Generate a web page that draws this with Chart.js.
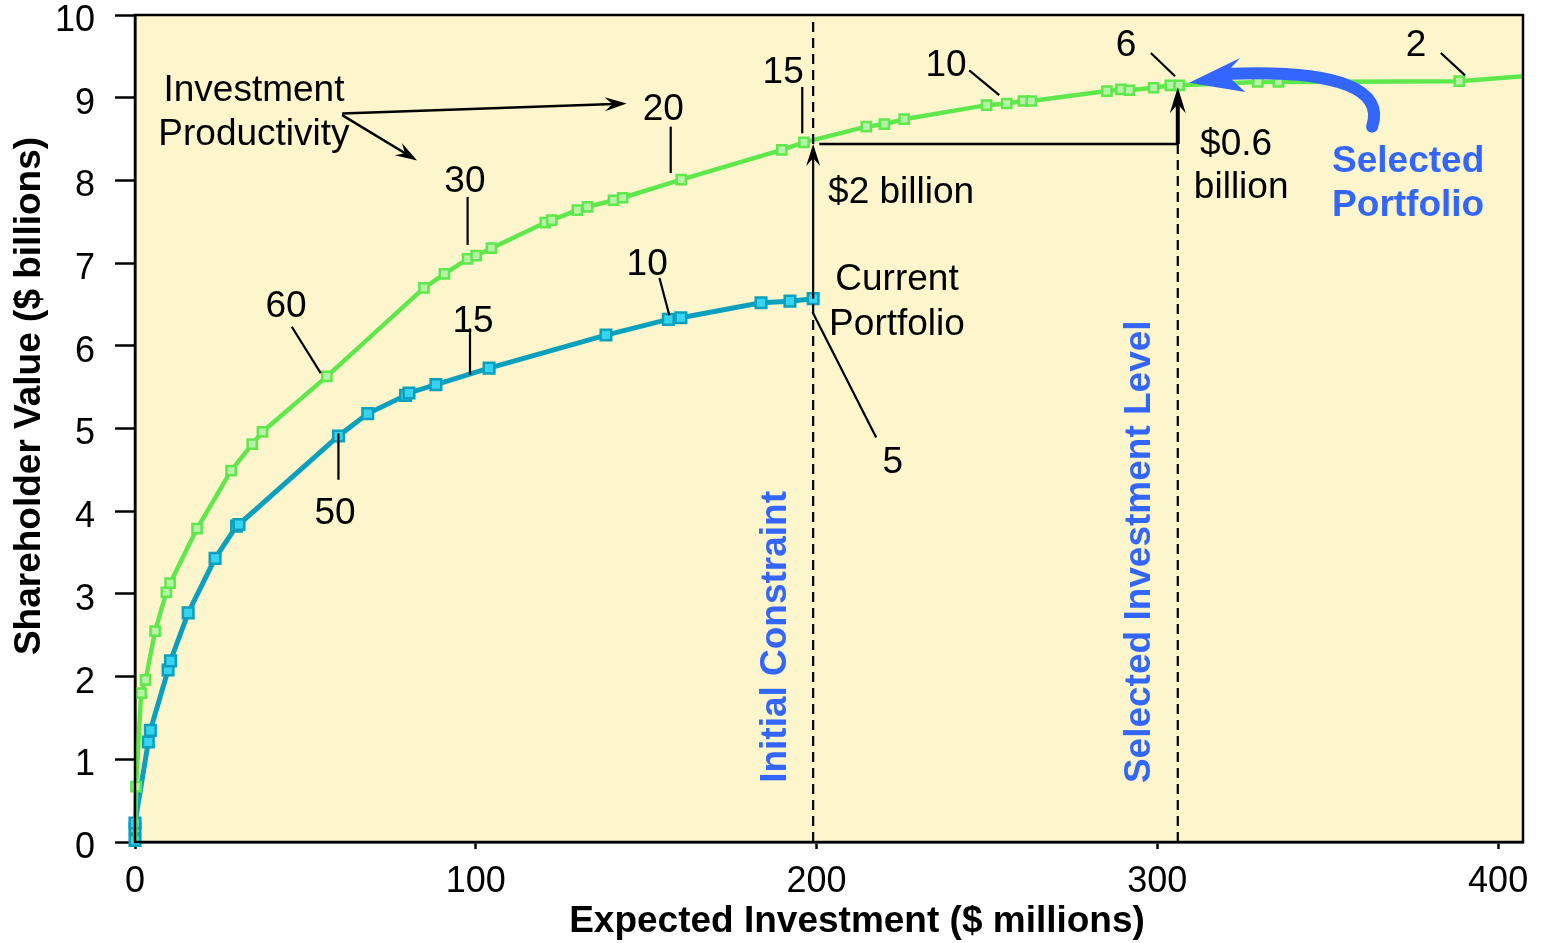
<!DOCTYPE html>
<html>
<head>
<meta charset="utf-8">
<script src="https://cdn.jsdelivr.net/npm/chart.js@4.4.1/dist/chart.umd.min.js"></script>
<style>
html,body{margin:0;padding:0;background:#fff;}
</style>
</head>
<body>
<canvas id="grafico" width="1541" height="943"></canvas>
<script>
// curva superior (productividad de la inversion)
const inversionVerde = [0,0.3,1.8,3.1,5.9,9.2,10.3,18.2,28.2,34.4,37.4,56.3,84.8,90.8,97.6,100.1,104.6,120.4,122.3,129.8,132.8,140.4,143.1,160.3,189.8,196.3,214.6,219.9,225.7,249.9,255.8,260.7,263.0,285.2,289.3,291.8,298.9,303.8,306.4,329.5,335.5,388.6,407.3];
const valorVerde = [0,0.67,1.80,1.96,2.55,3.02,3.13,3.79,4.49,4.81,4.96,5.63,6.70,6.87,7.05,7.09,7.18,7.49,7.52,7.64,7.68,7.76,7.79,8.01,8.37,8.46,8.65,8.68,8.74,8.91,8.93,8.96,8.96,9.08,9.10,9.09,9.12,9.15,9.15,9.19,9.19,9.20,9.26];

// curva de la cartera actual
const inversionAzul = [0,0,0,3.9,4.5,9.7,10.4,15.6,23.5,29.8,30.5,59.7,68.3,79.4,80.4,88.3,103.9,138.2,156.5,160.2,183.7,192.2,199];
const valorAzul = [0.02,0.17,0.23,1.21,1.35,2.08,2.19,2.77,3.43,3.82,3.84,4.91,5.18,5.40,5.43,5.53,5.73,6.13,6.32,6.34,6.52,6.54,6.57];

const ticksX = [0,100,200,300,400];
const ticksY = [0,1,2,3,4,5,6,7,8,9,10];

const restriccionInicial = 199;
const nivelSeleccionado = 306;
const valorActual = 6.57;
const valorCruce = 8.44;
const valorSeleccionado = 9.15;

// etiquetas de productividad: texto, centro del texto, linea guia
const etiquetasVerde = [
    ["60", 44.3, 6.47, 46.0, 6.23, 54.5, 5.67],
    ["30", 96.8, 7.98, 97.6, 7.80, 97.6, 7.22],
    ["20", 155.0, 8.85, 157.2, 8.65, 157.2, 8.09],
    ["15", 190.2, 9.30, 195.8, 9.13, 195.8, 8.57],
    ["10", 238.0, 9.38, 244.8, 9.33, 253.6, 9.03],
    ["6", 290.8, 9.63, 298.1, 9.54, 305.2, 9.26],
    ["2", 375.9, 9.63, 383.2, 9.54, 390.3, 9.27]
];
const etiquetasAzul = [
    ["50", 58.7, 3.97, 59.7, 4.94, 59.7, 4.38],
    ["15", 99.2, 6.29, 98.3, 6.21, 98.3, 5.65],
    ["10", 150.3, 6.98, 153.9, 6.82, 156.8, 6.37],
    ["5", 222.4, 4.58, 198.8, 6.41, 217.5, 4.89]
];

const fuente = "'Liberation Sans', Arial, sans-serif";
const azulTexto = "#3366ff";

function flecha(ctx, x1, y1, x2, y2, ancho, largo, media){
    const ang = Math.atan2(y2 - y1, x2 - x1);
    const ux = Math.cos(ang), uy = Math.sin(ang);
    const nx = -uy, ny = ux;
    ctx.lineWidth = ancho;
    ctx.beginPath();
    ctx.moveTo(x1, y1);
    ctx.lineTo(x2 - ux * largo * 0.6, y2 - uy * largo * 0.6);
    ctx.stroke();
    ctx.beginPath();
    ctx.moveTo(x2, y2);
    ctx.lineTo(x2 - ux * largo + nx * media, y2 - uy * largo + ny * media);
    ctx.lineTo(x2 - ux * largo * 0.65, y2 - uy * largo * 0.65);
    ctx.lineTo(x2 - ux * largo - nx * media, y2 - uy * largo - ny * media);
    ctx.closePath();
    ctx.fill();
}

function texto(ctx, t, x, y, size, bold, color, rot){
    ctx.save();
    ctx.font = (bold ? "bold " : "") + size + "px " + fuente;
    ctx.fillStyle = color;
    ctx.textAlign = "center";
    ctx.textBaseline = "middle";
    ctx.translate(x, y);
    if (rot) ctx.rotate(rot);
    ctx.fillText(t, 0, 0);
    ctx.restore();
}

const anotaciones = {
    id: "anotaciones",
    beforeDraw(chart){
        const {ctx, chartArea: a} = chart;
        ctx.save();
        ctx.fillStyle = "#ffffff";
        ctx.fillRect(0, 0, chart.width, chart.height);
        ctx.fillStyle = "#fdf6cd";
        ctx.fillRect(a.left, a.top, a.right - a.left, a.bottom - a.top);
        ctx.restore();
    },
    afterDatasetsDraw(chart){
        const {ctx, chartArea: a} = chart;
        const X = v => chart.scales.x.getPixelForValue(v);
        const Y = v => chart.scales.y.getPixelForValue(v);
        ctx.save();
        ctx.strokeStyle = "#000";
        ctx.fillStyle = "#000";

        // lineas punteadas verticales
        ctx.lineWidth = 2.2;
        ctx.setLineDash([10, 6]);
        ctx.beginPath();
        ctx.moveTo(X(restriccionInicial), a.bottom);
        ctx.lineTo(X(restriccionInicial), Y(valorActual));
        ctx.moveTo(X(restriccionInicial), Y(valorCruce));
        ctx.lineTo(X(restriccionInicial), a.top);
        ctx.moveTo(X(nivelSeleccionado), a.bottom);
        ctx.lineTo(X(nivelSeleccionado), Y(valorCruce));
        ctx.stroke();
        ctx.setLineDash([]);

        // flecha de $2 billion y linea horizontal
        flecha(ctx, X(restriccionInicial), Y(valorActual), X(restriccionInicial), Y(valorCruce), 2.2, 22, 7);
        ctx.lineWidth = 2.5;
        ctx.beginPath();
        ctx.moveTo(X(restriccionInicial + 1.8), Y(valorCruce));
        ctx.lineTo(X(nivelSeleccionado), Y(valorCruce));
        ctx.stroke();
        flecha(ctx, X(nivelSeleccionado), Y(valorCruce), X(nivelSeleccionado), Y(valorSeleccionado) + 2, 4, 26, 8);

        // Investment Productivity
        texto(ctx, "Investment", X(34.9), Y(9.08), 37, false, "#000");
        texto(ctx, "Productivity", X(34.9), Y(8.55), 37, false, "#000");
        flecha(ctx, X(60.8), Y(8.81), X(144.3), Y(8.93), 2.5, 22, 7);
        flecha(ctx, X(60.8), Y(8.79), X(82.8), Y(8.24), 2.5, 22, 7);

        // etiquetas con linea guia
        ctx.lineWidth = 2.2;
        etiquetasVerde.concat(etiquetasAzul).forEach(e => {
            texto(ctx, e[0], X(e[1]), Y(e[2]), 37, false, "#000");
            ctx.beginPath();
            ctx.moveTo(X(e[3]), Y(e[4]));
            ctx.lineTo(X(e[5]), Y(e[6]));
            ctx.stroke();
        });

        texto(ctx, "$2 billion", X(224.8), Y(7.85), 37, false, "#000");
        texto(ctx, "$0.6", X(323.1), Y(8.43), 37, false, "#000");
        texto(ctx, "billion", X(324.6), Y(7.91), 37, false, "#000");
        texto(ctx, "Current", X(223.6), Y(6.80), 37, false, "#000");
        texto(ctx, "Portfolio", X(223.6), Y(6.26), 37, false, "#000");

        // textos azules
        texto(ctx, "Initial Constraint", X(188.1), Y(2.48), 37, true, azulTexto, -Math.PI / 2);
        texto(ctx, "Selected Investment Level", X(294.9), Y(3.51), 37, true, azulTexto, -Math.PI / 2);
        texto(ctx, "Selected", X(373.6), Y(8.23), 37, true, azulTexto);
        texto(ctx, "Portfolio", X(373.6), Y(7.69), 37, true, azulTexto);

        // flecha curva azul
        ctx.strokeStyle = azulTexto;
        ctx.fillStyle = azulTexto;
        ctx.lineWidth = 12;
        ctx.lineCap = "round";
        ctx.beginPath();
        ctx.moveTo(X(363.0), Y(8.65));
        ctx.bezierCurveTo(X(366.8), Y(9.09), X(353.6), Y(9.34), X(321.5), Y(9.29));
        ctx.stroke();
        ctx.beginPath();
        ctx.moveTo(X(309.3), Y(9.18));
        ctx.lineTo(X(324.3), Y(9.48));
        ctx.lineTo(X(320.0), Y(9.29));
        ctx.lineTo(X(325.8), Y(9.07));
        ctx.closePath();
        ctx.fill();

        ctx.restore();
    },
    afterDraw(chart){
        const {ctx, chartArea: a} = chart;
        ctx.save();
        ctx.strokeStyle = "#000";
        ctx.lineWidth = 2.5;
        ctx.strokeRect(a.left, a.top, a.right - a.left, a.bottom - a.top);
        texto(ctx, "Shareholder Value ($ billions)", 30, 396, 37, true, "#000", -Math.PI / 2);
        texto(ctx, "Expected Investment ($ millions)", 857, 922, 37, true, "#000");
        ctx.restore();
    }
};

const ctx = document.getElementById("grafico");

new Chart(ctx, {

    type: "line",

    data: {

        datasets: [{
            label: "Investment Productivity",
            data: inversionVerde.map((x, i) => ({x: x, y: valorVerde[i]})),
            borderColor: "#5ee84c",
            borderWidth: 4.5,
            pointStyle: "rect",
            pointRadius: inversionVerde.map((x, i) => (i === 0 || i === inversionVerde.length - 1) ? 0 : 6.5),
            pointBackgroundColor: "#b8f2a8",
            pointBorderColor: "#5ee84c",
            pointBorderWidth: 2.5,
            tension: 0,
            clip: false
        }, {
            label: "Current Portfolio",
            data: inversionAzul.map((x, i) => ({x: x, y: valorAzul[i]})),
            borderColor: "#0aa0be",
            borderWidth: 5,
            pointStyle: "rect",
            pointRadius: 7.5,
            pointBackgroundColor: "#35d5f2",
            pointBorderColor: "#0aa0be",
            pointBorderWidth: 2.5,
            tension: 0,
            clip: false
        }]

    },

    options: {
        responsive: false,
        animation: false,
        devicePixelRatio: 1,
        layout: {padding: {top: 15, right: 18, left: 0, bottom: 0}},
        plugins: {legend: {display: false}, tooltip: {enabled: false}},
        scales: {
            x: {
                type: "linear",
                min: 0,
                max: 407.3,
                afterBuildTicks: s => { s.ticks = ticksX.map(v => ({value: v})); },
                afterFit: s => { s.height = 101; s.paddingLeft = 0; s.paddingRight = 0; },
                grid: {drawOnChartArea: false, tickLength: 7, tickColor: "#000", tickWidth: 2.5},
                border: {color: "#000", width: 2.5},
                ticks: {color: "#000", font: {family: fuente, size: 36}, padding: 11, maxRotation: 0, autoSkip: false}
            },
            y: {
                type: "linear",
                min: 0,
                max: 10,
                afterBuildTicks: s => { s.ticks = ticksY.map(v => ({value: v})); },
                afterFit: s => { s.width = 135; s.paddingTop = 0; s.paddingBottom = 0; },
                grid: {drawOnChartArea: false, tickLength: 20, tickColor: "#000", tickWidth: 2.5},
                border: {color: "#000", width: 2.5},
                ticks: {color: "#000", font: {family: fuente, size: 36}, padding: 20, labelOffset: 6, autoSkip: false}
            }
        }
    },

    plugins: [anotaciones]

});
</script>
</body>
</html>
